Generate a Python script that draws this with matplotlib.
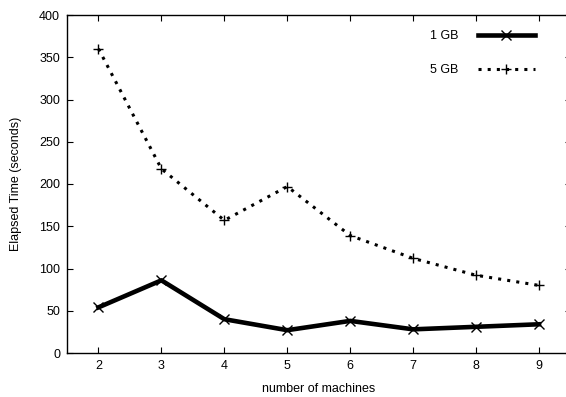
import matplotlib
matplotlib.use("Agg")
import matplotlib.pyplot as plt

plt.rcParams['font.family'] = ['Liberation Sans', 'DejaVu Sans']

# data
machines = [2, 3, 4, 5, 6, 7, 8, 9]
time_1gb = [54, 86, 40, 27, 38, 28, 31, 34]
time_5gb = [360, 218, 157, 197, 139, 112, 92, 80]

fig = plt.figure(figsize=(5.66, 3.97), dpi=100)
ax = fig.add_axes([67 / 566, 44 / 397, 503.5 / 566, 338 / 397])

ax.plot(machines, time_1gb, color='black', linewidth=3.3, marker='x',
        markersize=6.5, markeredgewidth=1.0, label='1 GB')
ax.plot(machines, time_5gb, color='black', linewidth=2.2, linestyle=(0, (1.0, 2.0)),
        marker='+', markersize=7.5, markeredgewidth=1.0, label='5 GB')

ax.set_xlim(1.5, 9.5)
ax.set_ylim(0, 400)
ax.set_xticks(machines)
ax.set_yticks(range(0, 401, 50))
ax.tick_params(direction='in', length=4, width=0.8, labelsize=9, top=True, right=True, pad=5)
for s in ax.spines.values():
    s.set_linewidth(1.0)

ax.set_xlabel('number of machines', fontsize=9, labelpad=8)
ax.set_ylabel('Elapsed Time (seconds)', fontsize=9, labelpad=12)

leg = fig.legend(loc='upper right', bbox_to_anchor=(535 / 566, 1 - 30 / 397),
                 frameon=False, markerfirst=False, numpoints=1, fontsize=9,
                 handlelength=4.6, handletextpad=1.5, labelspacing=1.75,
                 borderpad=0, borderaxespad=0)

fig.savefig('out.png', dpi=100)
